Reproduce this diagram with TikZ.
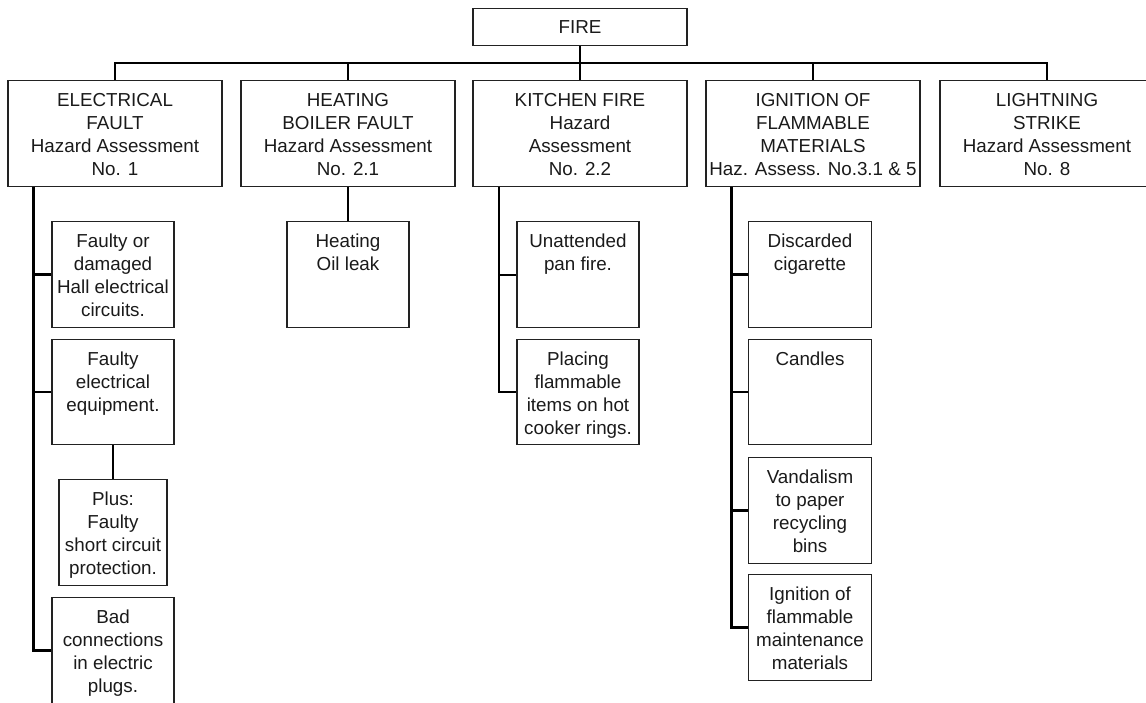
\documentclass[tikz,border=0pt]{standalone}
\usepackage{fontspec}
\setmainfont{Liberation Sans}
\usepackage{tikz}
\usetikzlibrary{positioning}

\definecolor{boxline}{HTML}{222222}
\definecolor{inktext}{HTML}{1A1A1A}

% text sits at the top of a fixed-size cell
\newcommand{\cellbox}[3]{\parbox[c][#2][t]{#1}{\centering\rule{0pt}{26pt}#3}}

\begin{document}
\begin{tikzpicture}[
  x=1pt, y=-1pt,
  box/.style={draw=boxline, line width=1.2pt, inner sep=0pt, anchor=north,
    text=inktext, font=\fontsize{18.8}{23}\selectfont},
  link/.style={draw=black, line width=2.6pt},
  thinlink/.style={draw=black, line width=2pt}
]
  \useasboundingbox (0,0) rectangle (1146,702);

  % Top node
  \node[box, minimum width=214pt, minimum height=37pt] (fire) at (580,8) {FIRE};

  % Main causes
  \node[box] (elec) at (115,80)
    {\cellbox{214pt}{106pt}{ELECTRICAL\\FAULT\\Hazard Assessment\\No. 1}};
  \node[box] (heat) at (348,80)
    {\cellbox{214pt}{106pt}{HEATING\\BOILER FAULT\\Hazard Assessment\\No. 2.1}};
  \node[box] (kitch) at (580,80)
    {\cellbox{214pt}{106pt}{KITCHEN FIRE\\Hazard\\Assessment\\No. 2.2}};
  \node[box] (ign) at (813,80)
    {\cellbox{214pt}{106pt}{IGNITION OF\\FLAMMABLE\\MATERIALS\\Haz. Assess. No.3.1 \& 5}};
  \node[box] (light) at (1047,80)
    {\cellbox{214pt}{106pt}{LIGHTNING\\STRIKE\\Hazard Assessment\\No. 8}};

  % Electrical fault branch
  \node[box] (e1) at (113,221)
    {\cellbox{122pt}{106pt}{Faulty or\\damaged\\Hall electrical\\circuits.}};
  \node[box] (e2) at (113,339)
    {\cellbox{122pt}{105pt}{Faulty\\electrical\\equipment.}};
  \node[box] (eplus) at (113,479)
    {\cellbox{108pt}{106pt}{Plus:\\Faulty\\short circuit\\protection.}};
  \node[box] (e4) at (113,597)
    {\cellbox{122pt}{106pt}{Bad\\connections\\in electric\\plugs.}};

  % Heating branch
  \node[box] (h1) at (348,221)
    {\cellbox{122pt}{106pt}{Heating\\Oil leak}};

  % Kitchen branch
  \node[box] (k1) at (578,221)
    {\cellbox{122pt}{106pt}{Unattended\\pan fire.}};
  \node[box] (k2) at (578,339)
    {\cellbox{122pt}{105pt}{Placing\\flammable\\items on hot\\cooker rings.}};

  % Ignition branch
  \node[box] (i1) at (810,221)
    {\cellbox{123pt}{106pt}{Discarded\\cigarette}};
  \node[box] (i2) at (810,339)
    {\cellbox{123pt}{105pt}{Candles}};
  \node[box] (i3) at (810,457)
    {\cellbox{123pt}{106pt}{Vandalism\\to paper\\recycling\\bins}};
  \node[box] (i4) at (810,574)
    {\cellbox{123pt}{106pt}{Ignition of\\flammable\\maintenance\\materials}};

  % Bus from FIRE to the main causes
  \draw[link] (fire.south) -- (kitch.north);
  \draw[link] (elec.north) -- ++(0,-17) -| (light.north);
  \foreach \n in {heat,ign}
    \draw[link] (\n.north) -- ++(0,-17);

  % Spines
  \path (elec.south west) ++(26,0) coordinate (espine);
  \path (kitch.south west) ++(27,0) coordinate (kspine);
  \path (ign.south west) ++(26,0) coordinate (ispine);

  \draw[link] (espine) |- (e4.west);
  \foreach \n in {e1,e2}
    \draw[link] (\n.west) -- (\n.west -| espine);
  \draw[link] (e2.south) -- (eplus.north);

  \draw[link] (heat.south) -- (h1.north);

  \draw[thinlink] (kspine) |- (k2.west);
  \draw[thinlink] (k1.west) -- (k1.west -| kspine);

  \draw[link] (ispine) |- (i4.west);
  \foreach \n in {i1,i2,i3}
    \draw[link] (\n.west) -- (\n.west -| ispine);
\end{tikzpicture}
\end{document}
